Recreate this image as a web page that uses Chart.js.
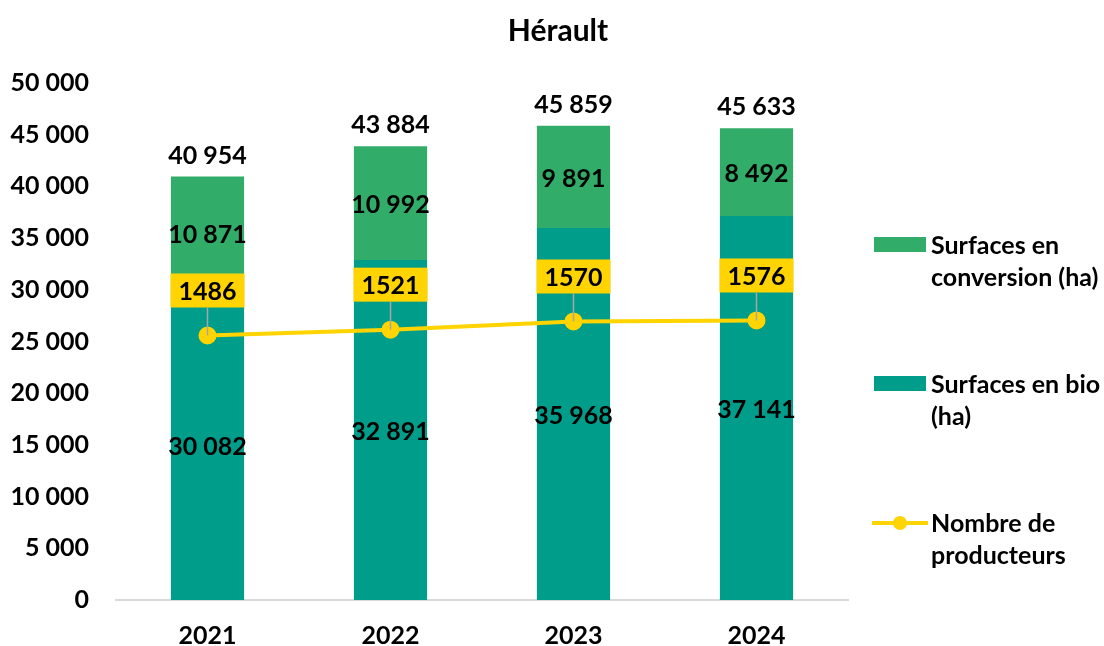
<!DOCTYPE html>
<html>
<head>
<meta charset="utf-8">
<title>Hérault</title>
<script src="https://cdn.jsdelivr.net/npm/chart.js@4.4.1/dist/chart.umd.min.js"></script>
<style>
    html, body { margin: 0; padding: 0; background: #fff; }
    #wrap { width: 1104px; height: 646px; }
</style>
</head>
<body>
<div id="wrap"><canvas id="heraultChart"></canvas></div>
<script>
const years = ['2021', '2022', '2023', '2024'];
const surfacesBio = [30082, 32891, 35968, 37141];
const surfacesConversion = [10871, 10992, 9891, 8492];
const totals = [40954, 43884, 45859, 45633];
const producteurs = [1486, 1521, 1570, 1576];

const chartTitle = 'Hérault';
const legendConversion = ['Surfaces en', 'conversion (ha)'];
const legendBio = ['Surfaces en bio', '(ha)'];
const legendProducteurs = ['Nombre de', 'producteurs'];

const GREEN = '#32AD69';
const TEAL = '#009D8A';
const YELLOW = '#FFD400';
const FONT = 'Lato, "Open Sans", sans-serif';

function fmt(v) {
    return String(v).replace(/\B(?=(\d{3})+(?!\d))/g, ' ');
}

// data labels: values in bars, totals on top, producer count boxes
const valueLabels = {
    id: 'valueLabels',
    afterDatasetsDraw(chart) {
        const ctx = chart.ctx;
        ctx.save();
        ctx.font = 'bold 25px ' + FONT;
        ctx.fillStyle = '#000';
        ctx.textAlign = 'center';
        ctx.textBaseline = 'middle';

        [0, 1].forEach(i => {
            chart.getDatasetMeta(i).data.forEach((bar, j) => {
                ctx.fillText(fmt(chart.data.datasets[i].data[j]), bar.x, (bar.y + bar.base) / 2 + 2);
            });
        });

        chart.getDatasetMeta(1).data.forEach((bar, j) => {
            ctx.fillText(fmt(totals[j]), bar.x, bar.y - 21);
        });

        chart.getDatasetMeta(2).data.forEach((pt, j) => {
            const w = 74, h = 34;
            const cx = pt.x, cy = pt.y - 45;
            ctx.strokeStyle = '#A6A6A6';
            ctx.lineWidth = 1.5;
            ctx.beginPath();
            ctx.moveTo(pt.x, pt.y);
            ctx.lineTo(cx, cy + h / 2);
            ctx.stroke();
            ctx.fillStyle = YELLOW;
            ctx.fillRect(cx - w / 2, cy - h / 2, w, h);
            ctx.fillStyle = '#000';
            ctx.fillText(String(producteurs[j]), cx, cy + 1);
        });
        ctx.restore();
    }
};

// title centred on the whole canvas and legend on the right with wrapped labels
const sideLegend = {
    id: 'sideLegend',
    afterDraw(chart) {
        const ctx = chart.ctx;
        ctx.save();
        ctx.fillStyle = '#000';
        ctx.font = 'bold 30px ' + FONT;
        ctx.textAlign = 'center';
        ctx.textBaseline = 'middle';
        ctx.fillText(chartTitle, 558, 31);

        const items = [
            { lines: legendConversion, color: GREEN, type: 'box', y: 245 },
            { lines: legendBio, color: TEAL, type: 'box', y: 384 },
            { lines: legendProducteurs, color: YELLOW, type: 'line', y: 523 }
        ];
        ctx.font = 'bold 25px ' + FONT;
        ctx.textAlign = 'left';
        items.forEach(item => {
            if (item.type === 'box') {
                ctx.fillStyle = item.color;
                ctx.fillRect(874, item.y - 8, 52, 15);
            } else {
                ctx.strokeStyle = item.color;
                ctx.lineWidth = 4;
                ctx.beginPath();
                ctx.moveTo(872, item.y);
                ctx.lineTo(928, item.y);
                ctx.stroke();
                ctx.fillStyle = item.color;
                ctx.beginPath();
                ctx.arc(900, item.y, 7, 0, Math.PI * 2);
                ctx.fill();
            }
            ctx.fillStyle = '#000';
            item.lines.forEach((t, k) => ctx.fillText(t, 931, item.y + 1 + k * 32));
        });
        ctx.restore();
    }
};

new Chart(document.getElementById('heraultChart'), {
    data: {
        labels: years,
        datasets: [
            {
                type: 'bar',
                label: 'Surfaces en bio (ha)',
                data: surfacesBio,
                backgroundColor: TEAL,
                stack: 's',
                order: 1,
                barPercentage: 0.4,
                categoryPercentage: 1
            },
            {
                type: 'bar',
                label: 'Surfaces en conversion (ha)',
                data: surfacesConversion,
                backgroundColor: GREEN,
                stack: 's',
                order: 1,
                barPercentage: 0.4,
                categoryPercentage: 1
            },
            {
                type: 'line',
                label: 'Nombre de producteurs',
                data: producteurs,
                yAxisID: 'y1',
                borderColor: YELLOW,
                backgroundColor: YELLOW,
                borderWidth: 4,
                pointRadius: 7,
                pointHoverRadius: 7,
                tension: 0,
                order: 0
            }
        ]
    },
    options: {
        responsive: true,
        maintainAspectRatio: false,
        animation: false,
        layout: { padding: { top: 83, right: 256, bottom: 0, left: 0 } },
        plugins: {
            legend: { display: false },
            tooltip: { enabled: false },
            title: { display: false }
        },
        scales: {
            x: {
                stacked: true,
                grid: { display: false, drawTicks: false },
                border: { display: true, color: '#D9D9D9', width: 2 },
                ticks: {
                    color: '#000',
                    padding: 21,
                    font: { family: FONT, size: 25, weight: 'bold' }
                },
                afterFit(s) { s.height = 46; }
            },
            y: {
                stacked: true,
                min: 0,
                max: 50000,
                grid: { display: false, drawTicks: false },
                border: { display: false },
                ticks: {
                    stepSize: 5000,
                    color: '#000',
                    padding: 27,
                    font: { family: FONT, size: 25, weight: 'bold' },
                    callback: v => fmt(v)
                },
                afterFit(s) { s.width = 116; }
            },
            y1: {
                display: false,
                min: -100,
                max: 3000
            }
        }
    },
    plugins: [valueLabels, sideLegend]
});
</script>
</body>
</html>
